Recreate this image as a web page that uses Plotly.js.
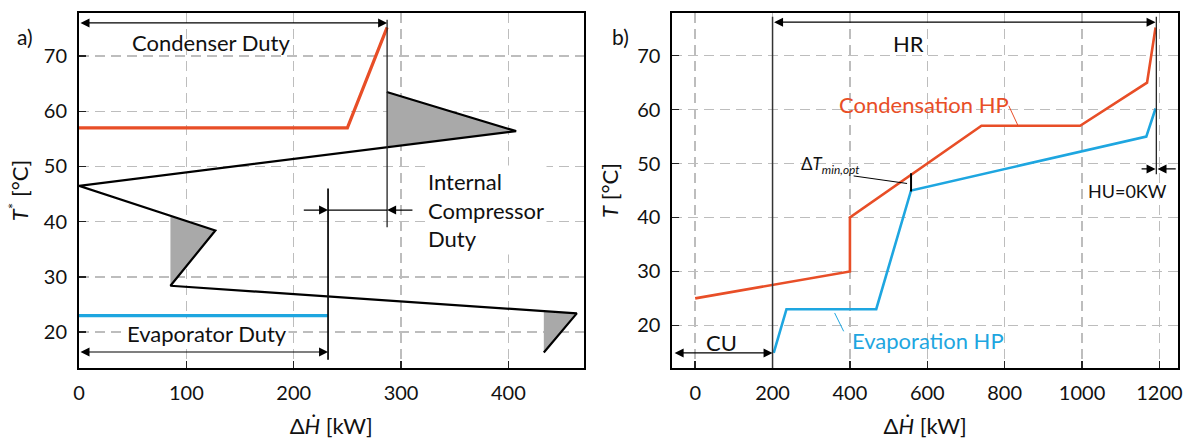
<!DOCTYPE html>
<html><head><meta charset="utf-8">
<script src="https://cdn.plot.ly/plotly-3.0.1.min.js"></script>
<style>html,body{margin:0;padding:0;background:#fff}</style>
</head><body><div id="chart" style="width:1191px;height:439px"></div>
<script>
// ---------- Panel a) data ----------
const condH = [0, 250, 287];
const condT = [57, 57, 75.2];
const evapH = [0, 232];
const evapT = [23, 23];
const gccH = [286.7, 407.2, 0, 127, 85.2, 463.7, 433];
const gccT = [63.5, 56.4, 46.5, 38.4, 28.4, 23.4, 16.3];
const pocket1H = [286.7, 407.2, 286.7];
const pocket1T = [63.5, 56.4, 53.6];
const pocket2H = [85.2, 127, 85.2];
const pocket2T = [41.1, 38.4, 28.4];
const pocket3H = [433, 463.7, 433];
const pocket3T = [23.8, 23.4, 16.3];
const condenserDuty = 287;
const evaporatorDuty = 232;
const xTicksA = [0, 100, 200, 300, 400];
const yTicks = [20, 30, 40, 50, 60, 70];

// ---------- Panel b) data ----------
const condHPH = [0, 400, 400, 740, 995, 1168, 1190];
const condHPT = [25, 30, 40, 57, 57, 65, 75.2];
const evapHPH = [203, 236, 468, 558, 1166, 1190];
const evapHPT = [14.9, 23, 23, 45, 55, 60.2];
const cuValue = 200;     // cold utility boundary
const hrEnd = 1192;      // end of heat recovery
const xTicksB = [0, 200, 400, 600, 800, 1000, 1200];

const RED = '#E84E27';
const BLUE = '#1EA6E0';
const FONT = 'Lato, "Noto Sans", "DejaVu Sans", sans-serif';

function line(x, y, color, w, xa, ya) {
  return {x, y, xaxis: xa, yaxis: ya, mode: 'lines', type: 'scatter',
          line: {color, width: w}, hoverinfo: 'skip'};
}
function fillPoly(x, y, xa, ya) {
  return {x, y, xaxis: xa, yaxis: ya, mode: 'lines', type: 'scatter', fill: 'toself',
          fillcolor: '#A9A9A9', line: {color: 'rgba(0,0,0,0)', width: 0}, hoverinfo: 'skip'};
}

const traces = [
  fillPoly(pocket1H, pocket1T, 'x', 'y'),
  fillPoly(pocket2H, pocket2T, 'x', 'y'),
  fillPoly(pocket3H, pocket3T, 'x', 'y'),
  line(condH, condT, RED, 3.2, 'x', 'y'),
  line(evapH, evapT, BLUE, 3.2, 'x', 'y'),
  line(gccH, gccT, '#000', 2.2, 'x', 'y'),
  line(condHPH, condHPT, RED, 2.6, 'x2', 'y2'),
  line(evapHPH, evapHPT, BLUE, 2.6, 'x2', 'y2'),
];

const axBase = {
  showline: true, linecolor: '#000', linewidth: 2, mirror: true,
  ticks: 'inside', ticklen: 7, tickwidth: 1.5, tickcolor: '#222',
  showgrid: true, gridcolor: '#BDBDBD', gridwidth: 1.5, griddash: '10px,6px',
  zeroline: false, tickfont: {family: FONT, size: 20, color: '#111'},
  ticklabelstandoff: 6, automargin: false,
};
const xTitle = {text: 'Δ<i>Ḣ</i> [kW]', font: {family: FONT, size: 22, color: '#111'}, standoff: 18};

function arrow(xa, ya, x, y, ax, ay, both) {
  return {xref: xa, yref: ya, axref: xa, ayref: ya, x, y, ax, ay, text: '',
          showarrow: true, arrowhead: 2, arrowsize: 1.5, arrowwidth: 1.2, arrowcolor: '#000',
          arrowside: both ? 'end+start' : 'end', startarrowhead: 2, startarrowsize: 1.5,
          standoff: 0, startstandoff: 0};
}
function txt(xa, ya, x, y, text, opts) {
  return Object.assign({xref: xa, yref: ya, x, y, text, showarrow: false,
          font: {family: FONT, size: 22, color: '#111'}}, opts || {});
}

const annotations = [
  // panel a
  arrow('x', 'y', condenserDuty, 76.0, 0, 76.0, true),
  arrow('x', 'y', evaporatorDuty, 16.4, 0, 16.4, true),
  arrow('x', 'y', evaporatorDuty, 42.1, 208, 42.1, false),
  arrow('x', 'y', condenserDuty, 42.1, 312, 42.1, false),
  txt('x', 'y', 123, 72.4, 'Condenser Duty'),
  txt('x', 'y', 119, 19.8, 'Evaporator Duty', {bgcolor: '#fff', borderpad: 1}),
  txt('x', 'y', 322, 42.1, 'Internal<br>Compressor<br>Duty', {xanchor: 'left', align: 'left', bgcolor: '#fff', borderpad: 2}),
  {xref: 'paper', yref: 'paper', x: -0.058, y: 0.975, text: 'a)', showarrow: false,
   font: {family: FONT, size: 21, color: '#111'}},
  // panel b
  arrow('x2', 'y2', 1190, 76.2, cuValue, 76.2, true),
  arrow('x2', 'y2', cuValue, 14.9, -57, 14.9, true),
  arrow('x2', 'y2', 1190, 49.0, 1150, 49.0, false),
  arrow('x2', 'y2', 1195, 49.0, 1246, 49.0, false),
  txt('x2', 'y2', 552, 72.3, 'HR'),
  txt('x2', 'y2', 69, 16.9, 'CU'),
  txt('x2', 'y2', 1117, 45.0, 'HU=0KW', {font: {family: FONT, size: 18, color: '#111'}}),
  txt('x2', 'y2', 349, 49.8, 'Δ<i>T</i><sub><i>min,opt</i></sub>', {font: {family: FONT, size: 17, color: '#111'}}),
  txt('x2', 'y2', 592, 61.0, 'Condensation HP', {font: {family: FONT, size: 22, color: RED}}),
  txt('x2', 'y2', 601, 17.2, 'Evaporation HP', {font: {family: FONT, size: 22, color: BLUE}}),
  {xref: 'paper', yref: 'paper', x: 0.4923, y: 0.975, text: 'b)', showarrow: false,
   font: {family: FONT, size: 21, color: '#111'}},
];

function seg(xa, ya, x0, y0, x1, y1, color, w) {
  return {type: 'line', xref: xa, yref: ya, x0, y0, x1, y1, line: {color, width: w}};
}
const shapes = [
  seg('x', 'y', condenserDuty, 39.0, condenserDuty, 76.6, '#222', 1.3),
  seg('x', 'y', evaporatorDuty, 15.0, evaporatorDuty, 46.0, '#111', 1.8),
  seg('x', 'y', evaporatorDuty, 42.1, condenserDuty, 42.1, '#000', 1.2),
  seg('x2', 'y2', cuValue, 12.1, cuValue, 77.2, '#333', 1.5),
  seg('x2', 'y2', hrEnd, 48.0, hrEnd, 77.2, '#222', 1.3),
  seg('x2', 'y2', 558, 44.8, 558, 48.2, '#000', 2),
  seg('x2', 'y2', 409.6, 47.7, 547.7, 46.3, '#000', 1),
  seg('x2', 'y2', 810.6, 60.7, 834, 57.1, RED, 1),
  seg('x2', 'y2', 360.5, 22.3, 383.8, 18.9, BLUE, 1),
];

const layout = {
  width: 1191, height: 439,
  margin: {l: 79, r: 13, t: 13, b: 71},
  paper_bgcolor: '#fff', plot_bgcolor: '#fff',
  showlegend: false,
  xaxis: Object.assign({}, axBase, {domain: [0, 0.4591], range: [0, 470], tickvals: xTicksA,
         title: xTitle, anchor: 'y'}),
  yaxis: Object.assign({}, axBase, {domain: [0, 1], range: [13.5, 77.8], tickvals: yTicks, anchor: 'x',
         title: {text: '<i>T</i><sup>*</sup> [°C]', font: {family: FONT, size: 22, color: '#111'}, standoff: 9}}),
  xaxis2: Object.assign({}, axBase, {domain: [0.5399, 1], range: [-59, 1248], tickvals: xTicksB,
         title: xTitle, anchor: 'y2'}),
  yaxis2: Object.assign({}, axBase, {domain: [0, 1], range: [12.1, 77.9], tickvals: yTicks, anchor: 'x2',
         title: {text: '<i>T</i> [°C]', font: {family: FONT, size: 22, color: '#111'}, standoff: 12}}),
  annotations, shapes,
};

Plotly.newPlot('chart', traces, layout, {displayModeBar: false, staticPlot: true});
</script></body></html>
